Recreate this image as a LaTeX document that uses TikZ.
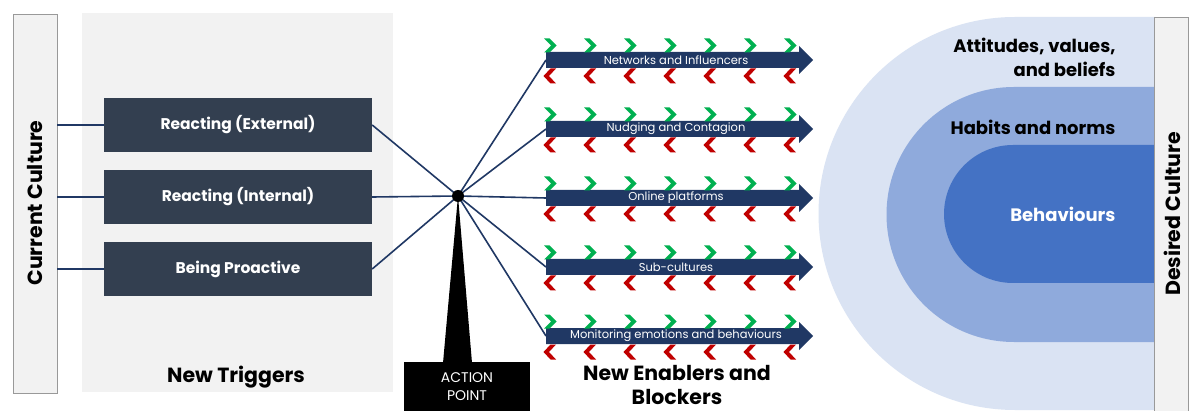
\documentclass[tikz,border=0pt]{standalone}
\usepackage{fontspec}
\setmainfont{Poppins}
\definecolor{boxfill}{HTML}{333F50}
\definecolor{navy}{HTML}{203864}
\definecolor{panelgray}{HTML}{F2F2F2}
\definecolor{ringA}{HTML}{DAE3F3}
\definecolor{ringB}{HTML}{8FAADC}
\definecolor{ringC}{HTML}{4472C4}
\definecolor{chevgreen}{HTML}{00B050}
\definecolor{chevred}{HTML}{C00000}
\tikzset{
  trigger/.style={fill=boxfill, text=white, minimum width=268pt, minimum height=54pt,
    inner sep=0pt, font=\fontsize{15.5}{18}\selectfont\bfseries},
  link/.style={draw=navy, line width=1.6pt},
  culture/.style={draw=gray!80, fill=panelgray, line width=0.8pt},
  heading/.style={font=\fontsize{20.5}{24}\selectfont\bfseries, align=center, inner sep=0pt},
  enabler/.style={text=white, font=\fontsize{11.5}{13}\selectfont},
  ringtext/.style={anchor=east, align=right, font=\fontsize{18}{24}\selectfont\bfseries},
  greenchev/.style={fill=chevgreen},
  redchev/.style={fill=chevred}
}
\begin{document}
\begin{tikzpicture}[x=1pt,y=-1pt]
        \clip (0,0) rectangle (1190,411);
        \fill[white] (0,0) rectangle (1190,411);
        % left side
        \fill[panelgray] (82,13) rectangle (393,392);
        \draw[culture] (13,14) rectangle (57,393);
        \node[rotate=90, font=\fontsize{20.5}{24}\selectfont\bfseries] (cur) at (35,203) {Current Culture};
        \node[trigger] (ext) at (238,125) {Reacting (External)};
        \node[trigger] (int) at (238,197) {Reacting (Internal)};
        \node[trigger] (pro) at (238,269) {Being Proactive};
        \draw[link] (57,125) -- (ext.west);
        \draw[link] (57,197) -- (int.west);
        \draw[link] (57,269) -- (pro.west);
        \node[heading] (trig) at (236,377) {New Triggers};
        % action point
        \coordinate (ap) at (458,196);
        \fill (ap) -- (443,363) -- (472,363) -- cycle;
        \node[fill=black, text=white, minimum width=126pt, minimum height=50pt, align=center,
          font=\fontsize{14}{18}\selectfont] (apbox) at (467,387) {ACTION\\POINT};
        \draw[link] (ext.east) -- (ap);
        \draw[link] (int.east) -- (ap);
        \draw[link] (pro.east) -- (ap);
        % enablers and blockers
        \foreach \y/\name/\txt in {60/e1/Networks and Influencers, 129/e2/Nudging and Contagion,
            198/e3/Online platforms, 267/e4/Sub-cultures, 336/e5/Monitoring emotions and behaviours} {
          \fill[navy] (546,\y-8) -- (799,\y-8) -- (799,\y-14) -- (813,\y) -- (799,\y+14)
            -- (799,\y+8) -- (546,\y+8) -- cycle;
          \node[enabler] at (676,\y) {\txt};
          \coordinate (\name) at (546,\y);
          \foreach \x in {550,590,...,790} {
            \fill[greenchev] (\x-6,\y-21.5) -- (\x-0.5,\y-21.5) -- (\x+6.5,\y-14.5) -- (\x-0.5,\y-7.5)
              -- (\x-6,\y-7.5) -- (\x+1,\y-14.5) -- cycle;
            \fill[redchev] (\x+6,\y+8.5) -- (\x+0.5,\y+8.5) -- (\x-6.5,\y+16) -- (\x+0.5,\y+23.5)
              -- (\x+6,\y+23.5) -- (\x-1,\y+16) -- cycle;
          }
          \draw[link] (ap) -- (\name);
        }
        \fill (ap) circle[radius=6];
        \node[heading] (enab) at (677,385) {New Enablers and\\Blockers};
        % desired culture
        \fill[ringA] (1155,17) -- (1015,17) arc[start angle=270, end angle=90, radius=196.5] -- (1155,410) -- cycle;
        \fill[ringB] (1155,87) -- (1014,87) arc[start angle=270, end angle=90, radius=127.5] -- (1155,342) -- cycle;
        \fill[ringC] (1155,145) -- (1013,145) arc[start angle=270, end angle=90, radius=69] -- (1155,283) -- cycle;
        \node[ringtext] (att) at (1119,57) {Attitudes, values,\\and beliefs};
        \node[ringtext] (hab) at (1119,127) {Habits and norms};
        \node[ringtext, text=white] (beh) at (1119,214) {Behaviours};
        \draw[culture] (1154,17) rectangle (1188,412);
        \node[rotate=90, font=\fontsize{20.5}{24}\selectfont\bfseries] (des) at (1172,214) {Desired Culture};
    \end{tikzpicture}
\end{document}
